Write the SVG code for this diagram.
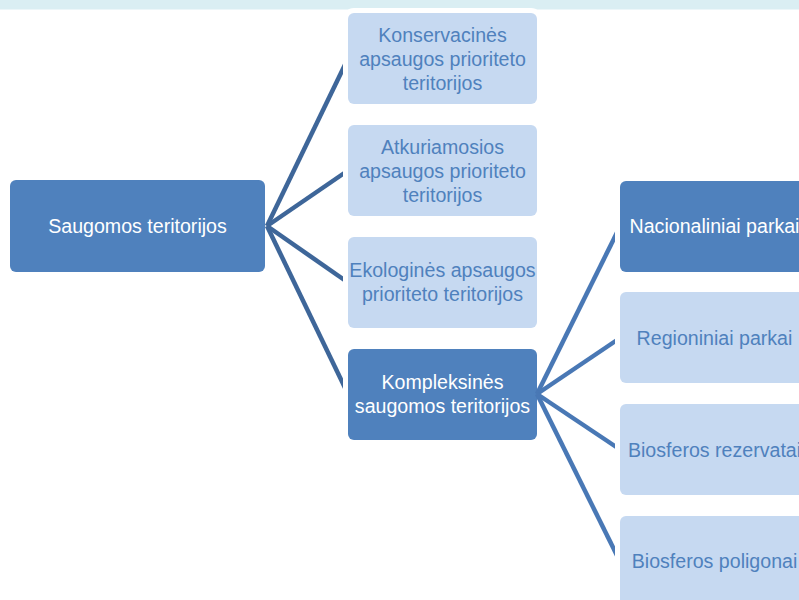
<svg xmlns="http://www.w3.org/2000/svg" width="799" height="600" viewBox="0 0 799 600">
<style>
.t{font-family:"Liberation Sans",Arial,sans-serif;font-size:19.6px;text-anchor:middle}
.dark rect{fill:#4F81BD}
.dark text{fill:#FFFFFF}
.light rect{fill:#C6D9F1}
.light text{fill:#4F81BD}
.ws{stroke:#FFFFFF;stroke-width:10;paint-order:stroke}
.c1{stroke:#3E6699;stroke-width:4.5;fill:none}
.c2{stroke:#4978B5;stroke-width:4.5;fill:none}
</style>
<rect x="0" y="0" width="799" height="9.5" fill="#DAEEF3"/>
<g id="connectors-1">
<line class="c1" x1="267" y1="226" x2="348" y2="58.5"/>
<line class="c1" x1="267" y1="226" x2="348" y2="170.5"/>
<line class="c1" x1="267" y1="226" x2="348" y2="282.5"/>
<line class="c1" x1="267" y1="226" x2="348" y2="394"/>
</g>
<g id="root" class="dark">
<rect x="10" y="180" width="255" height="92" rx="6"/>
<text class="t" x="137.5" y="233">Saugomos teritorijos</text>
</g>
<g id="n1" class="light">
<rect class="ws" x="348" y="13" width="189" height="91" rx="6"/>
<text class="t" x="442.5" y="42">Konservacinės</text>
<text class="t" x="442.5" y="66">apsaugos prioriteto</text>
<text class="t" x="442.5" y="90">teritorijos</text>
</g>
<g id="n2" class="light">
<rect class="ws" x="348" y="125" width="189" height="91" rx="6"/>
<text class="t" x="442.5" y="154">Atkuriamosios</text>
<text class="t" x="442.5" y="178">apsaugos prioriteto</text>
<text class="t" x="442.5" y="202">teritorijos</text>
</g>
<g id="n3" class="light">
<rect class="ws" x="348" y="237" width="189" height="91" rx="6"/>
<text class="t" x="442.5" y="277">Ekologinės apsaugos</text>
<text class="t" x="442.5" y="301">prioriteto teritorijos</text>
</g>
<g id="n4" class="dark">
<rect class="ws" x="348" y="349" width="189" height="91" rx="6"/>
<text class="t" x="442.5" y="389">Kompleksinės</text>
<text class="t" x="442.5" y="413">saugomos teritorijos</text>
</g>
<g id="connectors-2">
<line class="c2" x1="537" y1="394" x2="620" y2="226.5"/>
<line class="c2" x1="537" y1="394" x2="620" y2="338"/>
<line class="c2" x1="537" y1="394" x2="620" y2="449.5"/>
<line class="c2" x1="537" y1="394" x2="620" y2="561.5"/>
</g>
<g id="r1" class="dark">
<rect class="ws" x="620" y="181" width="189" height="91" rx="6"/>
<text class="t" x="714.5" y="233">Nacionaliniai parkai</text>
</g>
<g id="r2" class="light">
<rect class="ws" x="620" y="292" width="189" height="91" rx="6"/>
<text class="t" x="714.5" y="345">Regioniniai parkai</text>
</g>
<g id="r3" class="light">
<rect class="ws" x="620" y="404" width="189" height="91" rx="6"/>
<text class="t" x="714.5" y="457">Biosferos rezervatai</text>
</g>
<g id="r4" class="light">
<rect class="ws" x="620" y="516" width="189" height="91" rx="6"/>
<text class="t" x="714.5" y="568">Biosferos poligonai</text>
</g>
</svg>
